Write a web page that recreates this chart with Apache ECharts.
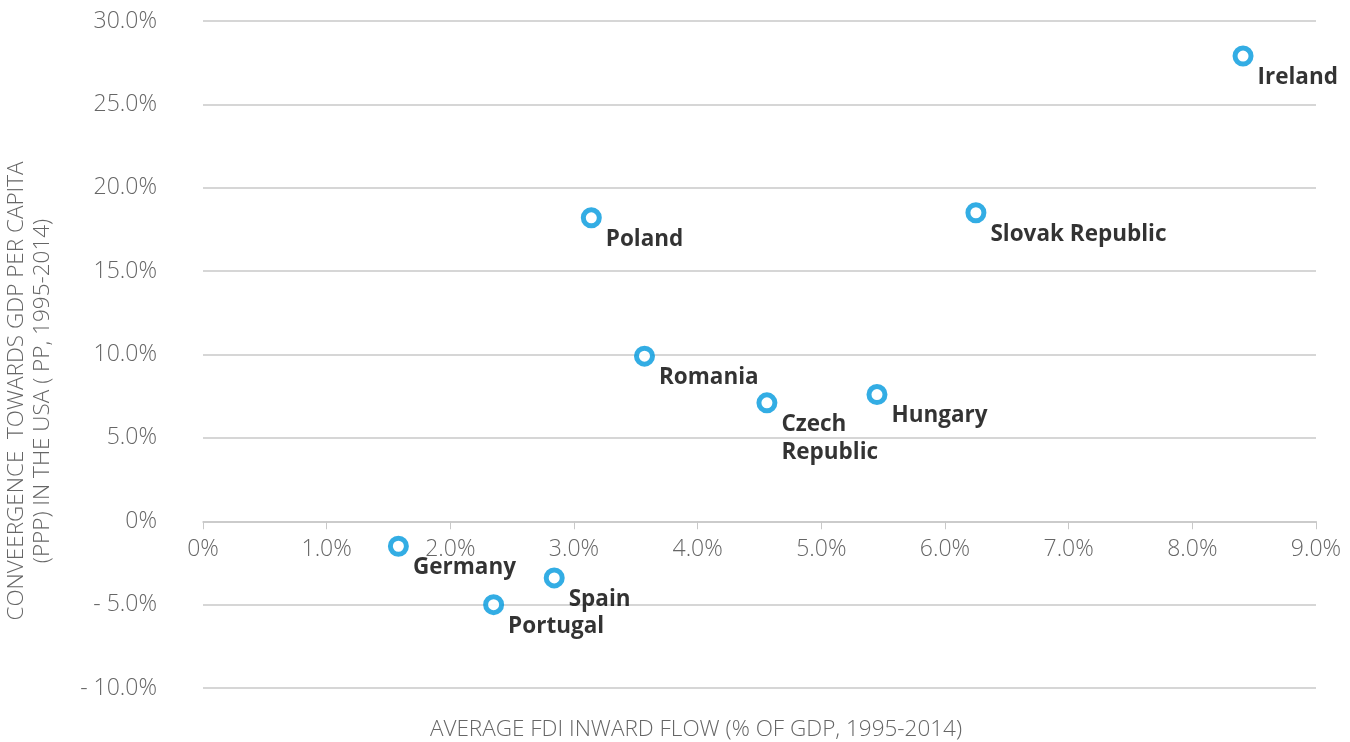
<!DOCTYPE html>
<html>
<head>
<meta charset="utf-8">
<script src="https://cdn.jsdelivr.net/npm/echarts@6/dist/echarts.min.js"></script>
<style>
  html, body { margin: 0; padding: 0; background: #fff; }
  #chart { width: 1350px; height: 742px; }
</style>
</head>
<body>
<div id="chart"></div>
<script>
// 国家及数据（FDI 流入占 GDP %，人均 GDP 趋同 pp）
const countries = ['Ireland', 'Slovak Republic', 'Poland', 'Romania', 'Czech\nRepublic', 'Hungary', 'Germany', 'Spain', 'Portugal'];
const fdiInflow = [8.41, 6.25, 3.14, 3.57, 4.56, 5.45, 1.58, 2.84, 2.35];
const convergence = [27.9, 18.5, 18.2, 9.9, 7.1, 7.6, -1.5, -3.4, -5.0];

const xTitle = 'AVERAGE FDI INWARD FLOW (% OF GDP, 1995-2014)';
const yTitle = 'CONVEERGENCE  TOWARDS GDP PER CAPITA\n(PPP) IN THE USA ( PP, 1995-2014)';

let chart = echarts.init(document.getElementById('chart'));

const axisFont = {
  fontFamily: 'Open Sans',
  fontWeight: 300,
  fontSize: 23,
  color: '#666'
};

// 网格高度 742-21-54 = 667，y 轴 -10..30，0 线距底部 10/40
const zeroOffset = -(742 - 21 - 54) * 10 / 40;

let option = {
  animation: false,
  grid: {
    left: 203,
    right: 34,
    top: 21,
    bottom: 54
  },
  xAxis: {
    type: 'value',
    min: 0,
    max: 9,
    interval: 1,
    offset: zeroOffset,
    axisLine: { onZero: false, lineStyle: { color: '#c8c8c8', width: 1.5 } },
    axisTick: { show: true, length: 8, lineStyle: { color: '#c8c8c8' } },
    splitLine: { show: false },
    axisLabel: {
      ...axisFont,
      margin: 17,
      formatter: v => v === 0 ? '0%' : v.toFixed(1) + '%'
    }
  },
  yAxis: {
    type: 'value',
    min: -10,
    max: 30,
    interval: 5,
    axisLine: { show: false },
    axisTick: { show: false },
    splitLine: { lineStyle: { color: '#c8c8c8', width: 1.5 } },
    axisLabel: {
      ...axisFont,
      margin: 46,
      formatter: v => {
        if (v === 0) return '0%';
        if (v < 0) return '- ' + (-v).toFixed(1) + '%';
        return v.toFixed(1) + '%';
      }
    }
  },
  graphic: [
    {
      type: 'text',
      x: 696,
      y: 730,
      style: {
        text: xTitle,
        ...axisFont,
        fontSize: 22.5,
        fill: '#666',
        align: 'center',
        verticalAlign: 'middle'
      }
    },
    {
      type: 'text',
      x: 30,
      y: 391,
      rotation: Math.PI / 2,
      style: {
        text: yTitle,
        ...axisFont,
        fontSize: 22.5,
        fill: '#666',
        lineHeight: 26,
        align: 'center',
        verticalAlign: 'middle'
      }
    }
  ],
  series: [
    {
      type: 'scatter',
      symbol: 'circle',
      symbolSize: 16,
      itemStyle: {
        color: '#fff',
        borderColor: '#0099dd',
        borderWidth: 5
      },
      label: {
        show: true,
        formatter: p => countries[p.dataIndex],
        position: ['100%', '100%'],
        distance: 0,
        offset: [4, -3],
        align: 'left',
        verticalAlign: 'top',
        fontFamily: 'Open Sans',
        fontWeight: 'bold',
        fontSize: 22.5,
        lineHeight: 28,
        color: '#000'
      },
      data: fdiInflow.map((x, i) => [x, convergence[i]])
    }
  ]
};

chart.setOption(option);
</script>
</body>
</html>
